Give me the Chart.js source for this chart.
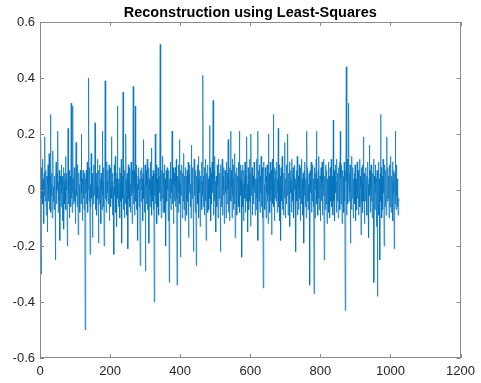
<!DOCTYPE html>
<html>
<head>
<meta charset="utf-8">
<script src="https://cdn.jsdelivr.net/npm/chart.js@4/dist/chart.umd.min.js"></script>
<style>
  html, body { margin: 0; padding: 0; background: #fff; }
  #wrap { width: 481px; height: 383px; }
</style>
</head>
<body>
<div id="wrap"><canvas id="graph"></canvas></div>
<script>
const TITLE = 'Reconstruction using Least-Squares'
const xTicks = [0, 200, 400, 600, 800, 1000, 1200]
const yTicks = [-0.6, -0.4, -0.2, 0, 0.2, 0.4, 0.6]

// reconstructed signal, samples 1..1024 (32 per row)
const signal = [
  0.18,-0.06,-0.30,0.08,-0.03,0.02,0.11,-0.05,0.04,0.01,-0.12,0.06,-0.02,0.19,-0.04,0.03,0.07,-0.09,0.00,0.05,-0.15,0.02,0.09,-0.04,-0.01,0.13,-0.07,0.03,0.05,0.27,-0.08,0.02,
  -0.02,0.06,-0.10,0.03,0.14,-0.04,0.01,-0.07,0.05,0.02,-0.03,-0.25,0.04,0.10,-0.05,-0.01,0.06,0.00,0.21,-0.08,0.03,-0.04,0.07,0.01,-0.18,0.05,0.02,-0.06,0.09,-0.01,0.04,-0.11,
  0.05,-0.02,0.08,-0.14,0.03,0.06,-0.05,0.01,0.12,-0.07,0.04,0.00,0.06,-0.20,0.02,0.22,-0.05,0.01,0.07,-0.10,0.04,-0.02,0.05,-0.06,0.31,-0.03,0.09,-0.08,0.30,-0.01,0.04,-0.05,
  0.03,0.08,-0.04,0.00,-0.12,0.05,0.17,-0.02,0.01,-0.06,0.04,0.09,-0.16,0.01,0.06,-0.03,0.02,-0.08,0.07,0.03,-0.05,0.20,-0.01,0.04,-0.11,0.02,0.07,-0.03,0.04,-0.07,0.06,0.01,
  -0.50,0.04,-0.01,0.07,-0.05,0.02,0.10,-0.08,0.00,0.05,0.40,-0.04,0.03,0.08,-0.23,0.02,-0.06,0.13,0.01,-0.03,0.06,-0.17,0.04,0.01,-0.05,0.09,-0.02,0.05,0.24,-0.07,0.02,-0.01,
  0.06,-0.09,0.03,0.11,-0.03,0.01,-0.19,0.07,0.02,-0.05,0.09,-0.01,0.04,-0.12,0.06,0.00,-0.07,0.21,-0.02,0.03,-0.06,0.08,-0.20,0.02,0.05,0.39,-0.03,0.01,-0.08,0.10,-0.04,0.03,
  -0.01,0.07,-0.05,0.02,0.09,-0.11,0.04,0.00,0.08,-0.06,0.01,0.19,-0.03,0.03,-0.09,0.06,0.01,-0.04,-0.23,0.09,-0.02,0.05,0.12,-0.08,0.00,0.04,-0.13,0.06,0.30,-0.03,0.02,-0.06,
  0.04,-0.01,0.08,-0.10,0.03,0.06,-0.04,0.11,-0.19,0.02,0.05,-0.03,0.35,-0.07,0.04,0.00,-0.10,0.07,0.02,-0.05,0.20,-0.01,0.04,-0.09,0.06,0.01,-0.21,0.09,-0.03,0.03,0.08,-0.06,
  0.02,-0.08,0.05,0.10,-0.02,0.04,-0.12,0.07,-0.01,0.37,-0.05,0.03,0.07,-0.09,0.01,0.30,-0.04,0.06,-0.07,0.09,0.02,-0.04,-0.18,0.05,0.00,0.08,-0.06,0.04,-0.02,-0.27,0.07,0.02,
  -0.04,0.08,0.00,0.04,-0.11,0.06,0.18,-0.03,0.02,-0.08,0.05,0.09,-0.29,0.02,0.07,-0.05,0.01,0.11,-0.07,0.03,-0.02,0.08,-0.19,0.04,0.00,-0.06,0.10,-0.02,0.03,0.15,-0.09,0.05,
  0.01,-0.04,0.07,-0.07,0.03,-0.40,0.06,-0.02,0.20,-0.05,0.02,0.09,-0.12,0.04,0.00,-0.06,0.08,0.02,-0.09,0.05,-0.01,0.10,0.52,-0.04,0.04,-0.10,0.07,0.01,-0.03,0.12,-0.08,0.02,
  0.06,-0.02,0.09,-0.08,0.04,0.00,-0.20,0.07,0.02,-0.04,0.08,0.00,0.05,-0.11,0.03,0.07,-0.33,0.04,-0.03,0.10,0.01,-0.07,0.04,-0.01,0.21,-0.05,0.02,0.08,-0.12,0.02,0.06,-0.04,
  0.03,0.08,-0.06,0.01,0.11,-0.03,-0.34,0.05,0.02,-0.08,0.09,-0.01,0.04,0.18,-0.05,0.02,-0.24,0.07,-0.02,0.04,0.09,-0.10,0.00,0.06,-0.04,0.13,-0.07,0.02,0.05,-0.11,0.03,0.08,
  -0.01,0.05,-0.09,0.07,0.00,-0.04,0.10,-0.17,0.03,0.06,-0.01,0.09,-0.06,0.02,-0.10,0.16,0.04,-0.03,0.08,0.01,-0.05,-0.22,0.05,0.11,-0.02,0.02,-0.08,0.07,0.03,-0.27,0.05,0.00,
  0.09,-0.05,0.02,0.12,-0.10,0.04,-0.01,0.07,-0.13,0.05,0.02,-0.04,0.10,-0.07,0.03,-0.02,0.41,-0.06,0.05,0.00,-0.09,0.08,0.02,-0.04,0.11,-0.18,0.01,0.06,-0.02,0.09,-0.08,0.04,
  0.01,-0.07,0.05,0.23,-0.03,0.08,-0.11,0.02,0.06,-0.05,0.10,-0.01,0.04,0.32,-0.09,0.02,0.07,-0.04,0.12,-0.08,0.03,-0.15,0.05,0.00,-0.06,0.09,0.02,-0.10,0.04,0.11,-0.03,0.01,
  0.06,-0.04,-0.22,0.09,0.02,-0.06,0.04,0.11,-0.09,0.00,0.05,-0.02,0.08,-0.12,0.03,0.07,-0.01,0.04,-0.10,0.10,0.01,-0.05,0.06,0.00,0.18,-0.08,0.02,0.04,-0.11,0.08,-0.03,0.21,
  -0.04,0.07,0.01,-0.10,0.11,-0.02,0.04,-0.07,0.09,0.02,-0.05,0.13,-0.17,0.03,0.06,-0.01,0.08,-0.09,0.02,0.05,-0.04,0.10,-0.06,0.00,0.21,-0.08,0.04,0.09,-0.02,0.04,0.07,-0.24,
  0.03,0.09,-0.06,0.02,-0.11,0.07,0.04,-0.03,0.10,-0.08,0.01,0.05,-0.04,0.19,0.00,0.02,-0.15,0.08,0.04,-0.07,0.02,0.11,-0.04,0.06,-0.13,0.20,-0.02,0.04,0.08,-0.09,0.01,0.05,
  -0.05,0.02,0.10,-0.01,0.06,-0.09,0.04,0.00,-0.07,0.11,-0.03,0.04,0.21,-0.18,0.02,0.07,-0.04,0.09,0.01,-0.08,0.05,-0.01,0.12,-0.06,0.03,0.08,-0.10,0.02,-0.35,0.06,0.10,-0.04,
  0.02,-0.07,0.08,0.03,-0.10,0.05,-0.01,0.09,-0.04,0.02,-0.12,0.20,-0.02,0.06,0.01,-0.08,0.10,-0.04,0.04,0.07,-0.16,0.00,0.11,-0.05,0.03,0.27,-0.06,0.04,-0.11,0.08,0.02,-0.03,
  0.07,-0.04,0.02,0.10,-0.08,0.04,-0.01,0.22,-0.06,0.03,0.09,-0.11,0.01,0.05,-0.18,0.08,0.02,-0.04,0.12,-0.07,0.04,0.00,-0.09,0.06,0.02,-0.03,0.17,-0.10,0.04,0.01,-0.05,0.09,
  -0.02,0.04,0.20,-0.09,0.06,0.01,-0.05,0.10,-0.13,0.03,0.07,-0.01,0.04,-0.08,0.11,0.00,-0.04,0.08,0.02,-0.10,0.05,0.00,0.09,-0.06,0.04,-0.22,0.02,0.07,-0.04,0.12,-0.09,0.03,
  0.05,-0.07,0.01,0.09,-0.03,0.04,-0.11,0.08,0.02,-0.05,0.11,-0.01,0.04,-0.09,0.06,0.02,-0.19,0.07,-0.02,0.10,0.00,-0.06,0.04,-0.10,0.21,-0.04,0.03,0.08,-0.07,0.02,-0.04,0.06,
  0.02,-0.34,0.07,-0.01,0.05,0.10,-0.08,0.03,-0.04,0.09,0.01,-0.06,0.04,-0.37,0.08,0.02,-0.10,0.06,0.00,0.11,0.21,-0.05,0.04,0.00,-0.09,0.07,-0.03,0.12,-0.07,0.02,0.05,-0.11,
  0.04,0.08,-0.04,0.01,0.10,-0.09,0.03,0.06,-0.02,0.11,-0.25,0.05,0.00,-0.07,0.09,0.02,-0.05,0.07,-0.12,0.04,0.02,-0.03,0.10,-0.08,0.05,0.01,-0.10,0.08,0.03,-0.04,0.11,-0.01,
  -0.06,0.05,0.02,-0.09,0.25,-0.04,0.07,0.00,-0.11,0.05,0.09,-0.01,0.03,-0.08,0.11,0.01,-0.04,0.06,-0.10,0.08,0.02,-0.03,0.10,-0.07,0.21,0.04,-0.05,0.01,0.09,-0.12,0.05,0.07,
  -0.02,0.05,-0.08,0.10,0.01,-0.04,-0.43,0.07,0.03,0.44,-0.09,0.04,0.11,-0.05,0.02,0.08,0.31,-0.04,0.06,-0.01,0.09,-0.19,0.05,0.00,-0.07,0.12,-0.03,0.02,0.08,-0.10,0.04,-0.02,
  0.06,-0.05,0.09,0.02,-0.11,0.04,0.00,-0.07,0.10,-0.03,0.04,0.07,-0.09,0.02,-0.01,0.11,-0.06,0.05,0.01,-0.16,0.08,-0.04,0.03,0.09,-0.08,0.02,0.19,-0.04,0.06,-0.12,0.04,0.01,
  -0.04,0.08,-0.01,0.05,-0.09,0.03,0.10,-0.06,0.02,-0.17,0.04,0.16,-0.02,0.07,-0.08,0.01,0.09,-0.04,0.04,-0.10,0.06,0.00,-0.03,0.11,-0.33,0.05,0.02,-0.07,0.09,-0.01,0.04,-0.13,
  0.03,0.07,-0.38,0.02,-0.05,0.10,-0.09,0.04,0.01,-0.25,0.06,0.27,-0.04,0.08,-0.10,0.02,0.05,-0.07,0.11,-0.01,0.04,-0.20,0.09,0.00,-0.06,0.07,0.03,-0.09,0.05,0.19,-0.04,0.02,
  0.08,-0.03,0.05,-0.10,0.01,0.09,-0.06,0.04,0.12,-0.08,0.02,0.05,-0.04,0.10,-0.11,0.03,0.07,-0.01,-0.21,0.06,-0.05,0.21,0.02,-0.07,0.09,-0.02,0.04,-0.06,0.01,-0.09,-0.03,-0.04,
]

const LINE_COLOUR = '#0072BD'
const AXIS_COLOUR = '#8a8a8a'
const TEXT_COLOUR = '#262626'
const FONT = '"Liberation Sans", Arial, Helvetica, sans-serif'

// matlab style box with inward ticks on all four sides
const boxPlugin = {
  id: 'box',
  afterDatasetsDraw(chart) {
    const { ctx, chartArea: a, scales } = chart
    const len = 4
    ctx.save()
    ctx.strokeStyle = AXIS_COLOUR
    ctx.lineWidth = 1
    ctx.beginPath()
    ctx.rect(Math.round(a.left) + 0.5, Math.round(a.top) + 0.5,
      Math.round(a.right - a.left) - 1, Math.round(a.bottom - a.top) - 1)
    xTicks.forEach(v => {
      const x = Math.round(scales.x.getPixelForValue(v)) + 0.5
      ctx.moveTo(x, a.bottom); ctx.lineTo(x, a.bottom - len)
      ctx.moveTo(x, a.top); ctx.lineTo(x, a.top + len)
    })
    yTicks.forEach(v => {
      const y = Math.round(scales.y.getPixelForValue(v)) + 0.5
      ctx.moveTo(a.left, y); ctx.lineTo(a.left + len, y)
      ctx.moveTo(a.right, y); ctx.lineTo(a.right - len, y)
    })
    ctx.stroke()
    ctx.restore()
  },
}

const ctx = document.getElementById('graph').getContext('2d')

let graph = new Chart(ctx, {
  type: 'line',
  data: {
    datasets: [
      {
        data: signal.map((v, i) => ({ x: i + 1, y: v })),
        borderColor: LINE_COLOUR,
        backgroundColor: 'transparent',
        borderWidth: 0.7,
        pointRadius: 0,
        tension: 0,
      },
    ],
  },
  options: {
    responsive: true,
    maintainAspectRatio: false,
    animation: false,
    events: [],
    layout: { padding: { left: 0, right: 15, top: 0, bottom: 0 } },
    plugins: {
      legend: { display: false },
      tooltip: { enabled: false },
      title: {
        display: true,
        text: TITLE,
        fullSize: false,
        color: '#000',
        font: { family: FONT, size: 14.5, weight: 'bold' },
        padding: { top: 4, bottom: 0.6 },
      },
    },
    scales: {
      x: {
        type: 'linear',
        min: 0,
        max: 1200,
        afterBuildTicks: s => { s.ticks = xTicks.map(v => ({ value: v })) },
        afterFit: s => { s.height = 25 },
        grid: { display: false, drawTicks: false },
        border: { display: false },
        ticks: {
          color: TEXT_COLOUR,
          font: { family: FONT, size: 13 },
          padding: 6,
          maxRotation: 0,
          callback: v => String(v),
        },
      },
      y: {
        type: 'linear',
        min: -0.6,
        max: 0.6,
        afterBuildTicks: s => { s.ticks = yTicks.map(v => ({ value: v })) },
        afterFit: s => { s.width = 40 },
        grid: { display: false, drawTicks: false },
        border: { display: false },
        ticks: {
          color: TEXT_COLOUR,
          font: { family: FONT, size: 13 },
          padding: 5,
          callback: v => String(Math.round(v * 10) / 10),
        },
      },
    },
  },
  plugins: [boxPlugin],
})
</script>
</body>
</html>
